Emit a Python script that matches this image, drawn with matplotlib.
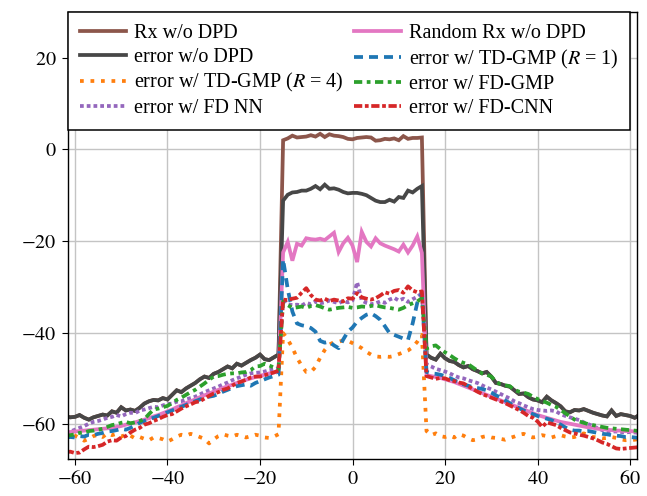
import matplotlib
matplotlib.use("Agg")
import matplotlib.pyplot as plt
import numpy as np
from matplotlib.ticker import FixedLocator, FuncFormatter

# frequency grid (integer bins), band edges at +-15.5
x = np.arange(-62, 63)

# ---- error w/o DPD (also Rx w/o DPD outside the band) ----
err_nodpd_lo = [-58.3, -58.5, -58.4, -58.0, -58.6, -59.0, -58.5, -58.2, -57.9, -58.1,
                -57.2, -57.5, -56.3, -57.0, -56.8, -57.1, -56.4, -55.5, -55.0, -54.7,
                -54.8, -54.3, -54.6, -53.6, -52.6, -53.0, -52.2, -51.6, -51.0, -50.2,
                -49.6, -49.9, -49.0, -48.6, -48.0, -47.4, -47.8, -46.8, -47.2, -46.6,
                -46.0, -45.5, -44.8, -45.8, -46.0, -45.4, -44.8]
err_nodpd_in = [-11.2, -9.9, -9.4, -9.3, -9.0, -9.0, -8.6, -8.0, -8.7, -7.7,
                -8.6, -8.5, -8.8, -9.3, -9.6, -9.5, -9.5, -9.7, -10.0, -10.6,
                -11.2, -11.5, -11.5, -11.0, -11.4, -10.4, -10.6, -9.0, -9.4, -8.6, -8.0]
err_nodpd_hi = [-44.8, -45.5, -45.9, -44.6, -45.6, -46.2, -46.4, -47.1, -47.6, -47.3,
                -48.0, -48.4, -48.9, -48.6, -49.6, -51.0, -51.2, -51.6, -51.8, -52.6,
                -53.4, -53.3, -54.1, -54.6, -54.8, -55.2, -54.0, -54.8, -55.4, -56.1,
                -57.2, -57.4, -56.9, -57.0, -56.7, -57.1, -57.5, -57.8, -58.1, -58.3,
                -57.0, -58.2, -57.8, -58.0, -58.2, -58.6, -58.0]

# ---- Rx w/o DPD in band ----
rx_nodpd_in = [2.0, 2.4, 3.0, 2.6, 2.7, 2.8, 3.1, 2.8, 3.4, 2.7,
               3.3, 3.0, 2.9, 2.7, 2.3, 2.2, 2.5, 2.6, 2.7, 2.6,
               1.9, 2.0, 2.3, 2.2, 2.4, 2.0, 2.9, 2.3, 2.5, 2.5, 2.6]

# ---- Random Rx w/o DPD ----
rnd_rx_lo = [-61.8, -61.7, -61.6, -61.5, -61.4, -61.3, -61.2, -61.1, -61.0, -60.9,
             -60.8, -60.6, -60.4, -60.1, -59.9, -59.6, -59.3, -59.0, -58.7, -58.3,
             -58.0, -57.6, -57.2, -56.8, -56.3, -55.9, -55.4, -55.0, -54.6, -54.1,
             -53.7, -53.3, -52.9, -52.5, -52.1, -51.7, -51.4, -51.0, -50.6, -50.3,
             -50.0, -49.7, -49.4, -49.2, -48.9, -48.7, -48.5]
rnd_rx_in = [-22.5, -20.2, -24.3, -20.6, -21.0, -19.4, -19.6, -19.7, -19.5, -19.8,
             -19.0, -18.2, -22.4, -20.5, -19.3, -21.0, -24.6, -18.0, -20.2, -21.2,
             -19.4, -20.5, -21.0, -21.4, -21.8, -22.3, -20.8, -22.5, -21.0, -19.0, -22.6]
rnd_rx_hi = [-49.3, -49.5, -49.7, -49.9, -50.2, -50.5, -50.8, -51.2, -51.6, -52.0,
             -52.4, -52.8, -53.2, -53.6, -54.0, -54.4, -54.8, -55.2, -55.6, -56.0,
             -56.4, -56.8, -57.2, -57.6, -58.0, -58.3, -58.6, -58.9, -59.2, -59.5,
             -59.7, -59.9, -60.1, -60.3, -60.5, -60.7, -60.8, -61.0, -61.1, -61.2,
             -61.3, -61.4, -61.4, -61.5, -61.5, -61.6, -61.6]

# ---- error w/ TD-GMP (R=4) ----
td4_lo = [-62.0, -61.5, -62.5, -63.0, -63.6, -63.2, -62.6, -62.3, -62.8, -62.0,
          -62.4, -62.1, -62.7, -62.3, -62.5, -63.1, -62.8, -63.2, -63.5, -62.9,
          -63.0, -63.3, -63.8, -63.3, -62.7, -62.3, -62.5, -62.1, -62.4, -62.8,
          -63.2, -64.2, -63.3, -62.6, -62.2, -62.5, -62.7, -62.3, -62.6, -62.9,
          -62.6, -62.3, -62.5, -62.9, -63.0, -62.7, -62.2]
td4_in = [-40.1, -41.5, -43.3, -45.5, -47.2, -48.6, -48.6, -47.5, -45.5, -43.8,
          -42.6, -42.1, -42.0, -41.7, -41.8, -42.3, -42.8, -43.4, -44.2, -44.8,
          -45.2, -45.3, -45.2, -45.3, -45.1, -44.7, -44.3, -43.9, -43.2, -42.0, -40.5]
td4_hi = [-61.5, -62.4, -62.0, -62.6, -62.8, -62.5, -62.9, -62.2, -62.5, -63.1,
          -63.5, -63.3, -62.8, -62.6, -62.9, -63.0, -63.2, -63.4, -63.0, -62.7,
          -62.3, -62.1, -62.6, -62.9, -62.7, -62.4, -62.6, -62.9, -62.6, -62.4,
          -62.7, -62.9, -62.8, -62.3, -62.0, -62.4, -62.8, -62.9, -63.1, -63.0,
          -62.8, -63.0, -63.3, -63.5, -63.4, -63.4, -63.2]

# ---- error w/ FD NN ----
fdnn_lo = [-61.8, -61.6, -61.2, -60.8, -60.4, -59.9, -59.5, -59.3, -59.0, -58.6,
           -58.4, -58.0, -58.3, -57.8, -57.5, -57.6, -57.0, -56.8, -56.5, -56.2,
           -56.3, -55.9, -55.6, -55.5, -55.1, -55.0, -54.6, -54.3, -54.0, -53.5,
           -53.0, -52.6, -52.2, -51.8, -51.3, -50.9, -50.4, -50.0, -49.6, -49.2,
           -48.9, -48.8, -48.7, -48.5, -48.2, -48.0, -47.8]
fdnn_in = [-32.5, -33.8, -34.0, -33.9, -34.1, -33.5, -33.8, -33.2, -33.6, -33.4,
           -33.0, -33.3, -33.6, -33.1, -33.4, -33.0, -29.0, -33.0, -33.5, -33.8,
           -33.6, -33.2, -33.5, -32.8, -32.4, -33.0, -32.6, -33.3, -32.7, -32.2, -31.4]
fdnn_hi = [-47.0, -47.4, -47.9, -48.2, -48.5, -48.9, -49.4, -49.8, -50.0, -50.4,
           -50.7, -51.0, -51.5, -52.0, -52.4, -52.9, -53.4, -53.9, -54.4, -55.0,
           -55.4, -55.9, -56.3, -56.7, -56.9, -57.0, -57.1, -57.0, -57.2, -57.8,
           -58.2, -58.5, -58.8, -59.1, -59.6, -60.0, -60.4, -60.9, -61.3, -61.5,
           -61.6, -61.6, -61.7, -61.8, -61.7, -61.8, -61.9]

# ---- error w/ TD-GMP (R=1) ----
td1_lo = [-62.9, -62.8, -62.9, -62.6, -62.7, -62.3, -62.4, -62.1, -61.9, -61.6,
          -61.5, -61.3, -61.0, -61.2, -60.8, -60.3, -59.7, -59.3, -58.9, -58.6,
          -58.2, -57.8, -57.4, -57.0, -56.6, -56.2, -55.8, -55.3, -55.0, -54.6,
          -54.3, -54.0, -53.8, -53.4, -52.9, -52.5, -52.1, -51.7, -51.5, -51.3,
          -51.6, -51.0, -50.6, -50.2, -49.8, -49.5, -49.2]
td1_in = [-24.0, -30.5, -35.4, -38.0, -38.4, -38.6, -39.0, -39.8, -41.8, -42.2,
          -42.0, -42.8, -43.4, -41.5, -39.8, -38.9, -37.6, -36.8, -36.1, -35.8,
          -36.4, -37.2, -38.6, -40.1, -40.5, -40.9, -41.3, -41.6, -38.0, -33.5, -31.5]
td1_hi = [-48.6, -48.9, -49.0, -49.2, -49.5, -49.9, -50.4, -50.9, -51.3, -51.6,
          -51.9, -52.1, -52.3, -52.6, -53.1, -53.7, -54.2, -54.8, -55.4, -56.0,
          -56.5, -57.0, -57.4, -57.8, -58.2, -58.5, -58.8, -59.1, -59.6, -60.1,
          -60.7, -61.2, -61.4, -61.4, -61.6, -61.5, -61.7, -61.9, -62.1, -62.2,
          -62.4, -62.5, -62.6, -62.8, -62.8, -62.9, -63.0]

# ---- error w/ FD-GMP ----
fdgmp_lo = [-62.6, -62.4, -62.2, -61.9, -61.8, -61.5, -61.4, -61.2, -61.0, -60.6,
            -60.2, -60.0, -59.7, -59.5, -59.8, -59.6, -59.3, -58.9, -57.8, -56.8,
            -56.6, -56.3, -56.0, -55.4, -54.7, -54.2, -53.6, -53.0, -52.5, -51.8,
            -51.1, -50.3, -49.6, -49.5, -49.2, -49.0, -48.9, -48.9, -48.7, -48.6,
            -48.2, -47.4, -47.3, -46.8, -47.2, -47.6, -48.0]
fdgmp_in = [-33.2, -34.0, -34.6, -34.5, -34.3, -34.6, -34.2, -34.0, -34.3, -34.7,
            -35.0, -34.8, -34.6, -34.5, -34.4, -34.6, -34.5, -34.3, -34.4, -34.2,
            -34.0, -34.3, -34.5, -34.6, -34.8, -35.0, -34.6, -34.0, -33.6, -33.2, -32.5]
fdgmp_hi = [-43.5, -43.0, -42.8, -43.6, -44.3, -44.9, -45.6, -46.2, -46.6, -46.9,
            -47.6, -48.3, -48.9, -49.2, -49.6, -50.7, -51.3, -51.5, -51.7, -52.5,
            -52.9, -53.1, -53.4, -54.0, -54.5, -54.9, -55.3, -55.8, -56.2, -56.9,
            -57.6, -58.3, -59.0, -59.4, -59.7, -60.0, -60.2, -60.4, -60.6, -60.8,
            -60.9, -61.0, -61.1, -61.2, -61.3, -61.4, -61.5]

# ---- error w/ FD-CNN ----
fdcnn_lo = [-66.1, -66.0, -66.3, -66.2, -65.5, -64.9, -65.0, -64.8, -64.5, -63.8,
            -63.5, -63.6, -62.9, -62.6, -61.8, -61.2, -60.8, -60.1, -59.8, -59.3,
            -58.9, -58.4, -58.0, -57.8, -57.2, -56.6, -56.1, -55.7, -55.2, -55.0,
            -54.4, -53.8, -53.3, -53.0, -52.5, -52.2, -51.6, -51.0, -50.7, -50.3,
            -49.8, -49.6, -49.6, -49.3, -49.0, -48.7, -48.3]
fdcnn_in = [-32.8, -32.9, -32.6, -32.4, -31.3, -30.3, -31.8, -32.8, -33.0, -32.6,
            -33.1, -32.8, -33.0, -33.2, -32.5, -32.6, -31.4, -32.3, -32.6, -32.8,
            -32.5, -31.9, -31.2, -31.5, -30.9, -30.7, -31.3, -29.9, -30.8, -31.2, -31.0]
fdcnn_hi = [-49.5, -49.8, -50.1, -49.9, -50.0, -50.4, -50.6, -50.9, -51.1, -51.7,
            -52.3, -52.9, -53.4, -53.8, -54.2, -54.6, -55.0, -55.4, -55.9, -56.4,
            -56.9, -57.5, -58.2, -58.6, -59.4, -60.6, -59.6, -59.9, -60.2, -60.8,
            -61.3, -61.8, -62.0, -62.3, -62.5, -62.8, -63.1, -63.5, -64.0, -64.3,
            -64.8, -65.3, -65.4, -65.3, -65.2, -65.1, -65.0]


def full(lo, mid, hi):
    return np.concatenate([lo, mid, hi])


# (label, values, colour, dash pattern in linewidth units or None for solid)
series = [
    ("Rx w/o DPD", full(err_nodpd_lo, rx_nodpd_in, err_nodpd_hi), "#8c564b", None),
    ("error w/o DPD", full(err_nodpd_lo, err_nodpd_in, err_nodpd_hi), "#474747", None),
    ("error w/ TD-GMP ($R$ = 4)", full(td4_lo, td4_in, td4_hi), "#ff7f0e", (1.0, 1.8)),
    ("error w/ FD NN", full(fdnn_lo, fdnn_in, fdnn_hi), "#9467bd", (1.0, 0.8)),
    ("Random Rx w/o DPD", full(rnd_rx_lo, rnd_rx_in, rnd_rx_hi), "#e377c2", None),
    ("error w/ TD-GMP ($R$ = 1)", full(td1_lo, td1_in, td1_hi), "#1f77b4", (2.4, 1.6)),
    ("error w/ FD-GMP", full(fdgmp_lo, fdgmp_in, fdgmp_hi), "#2ca02c", (2.2, 1.2, 1.0, 1.2)),
    ("error w/ FD-CNN", full(fdcnn_lo, fdcnn_in, fdcnn_hi), "#d62728", (2.2, 0.7, 1.0, 0.7)),
]

plt.rcParams.update({
    "font.family": "serif",
    "font.serif": ["Liberation Serif", "DejaVu Serif"],
    "mathtext.fontset": "stix",
    "font.size": 14.5,
    "axes.linewidth": 1.0,
    "xtick.direction": "out",
    "ytick.direction": "out",
    "xtick.major.size": 4.5,
    "ytick.major.size": 4.5,
})

fig = plt.figure(figsize=(6.47, 4.96), dpi=100)
ax = fig.add_axes([68 / 647, 1 - 459 / 496, (637 - 68) / 647, (459 - 12) / 496])

LW = 2.7
for label, vals, color, dash in series:
    line, = ax.plot(x, vals, color=color, lw=LW, label=label,
                    solid_joinstyle="miter" if dash is None else "round")
    if dash is not None:
        line.set_dashes(dash)

ax.set_xlim(-61.5, 61.5)
ax.set_ylim(-67.6, 30)
ax.xaxis.set_major_locator(FixedLocator([-60, -40, -20, 0, 20, 40, 60]))
ax.yaxis.set_major_locator(FixedLocator([-60, -40, -20, 0, 20]))
fmt = FuncFormatter(lambda v, p: r"$%d$" % v)
ax.xaxis.set_major_formatter(fmt)
ax.yaxis.set_major_formatter(fmt)
ax.tick_params(labelsize=14.5)
ax.grid(True, color="#c4c4c4", lw=1.0)
ax.set_axisbelow(True)

leg = ax.legend(loc="upper left", bbox_to_anchor=(0.0, 1.0), borderaxespad=0.0,
                ncol=2, fancybox=False, framealpha=1.0, edgecolor="black",
                handlelength=2.3, handletextpad=0.4, columnspacing=0.5,
                labelspacing=0.22, borderpad=0.6, fontsize=14.5)
leg.get_frame().set_linewidth(1.1)

fig.savefig("out.png", dpi=100)
